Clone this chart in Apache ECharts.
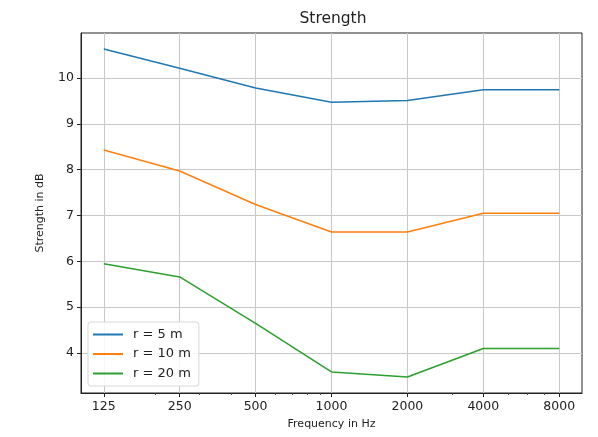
<!DOCTYPE html>
<html>
<head>
<meta charset="utf-8">
<script src="https://cdn.jsdelivr.net/npm/echarts@6/dist/echarts.min.js"></script>
<style>
  html, body { margin: 0; padding: 0; background: #fff; }
  #chart { width: 598px; height: 437px; }
</style>
</head>
<body>
<div id="chart"></div>
<script>
// frequencies (Hz) and strength values (dB)
var freqs = [125, 250, 500, 1000, 2000, 4000, 8000];
var minorFreqs = [200, 300, 400, 600, 700, 800, 900, 3000, 5000, 6000, 7000];
var yTicks = [4, 5, 6, 7, 8, 9, 10];
var names = ['r = 5 m', 'r = 10 m', 'r = 20 m'];
var r5 = [10.63, 10.21, 9.78, 9.47, 9.51, 9.74, 9.74];
var r10 = [8.43, 7.97, 7.24, 6.64, 6.64, 7.05, 7.05];
var r20 = [5.95, 5.66, 4.65, 3.59, 3.48, 4.1, 4.1];
var colors = ['#1f77b4', '#ff7f0e', '#2ca02c'];

function pairs(xs, ys) {
    var out = [];
    for (var i = 0; i < xs.length; i++) {
        out.push([xs[i], ys[i]]);
    }
    return out;
}

var chart = echarts.init(document.getElementById('chart'));
var font = 'DejaVu Sans';
var xMin = 125 / Math.pow(2, 0.3);
var xMax = 8000 * Math.pow(2, 0.3);

var option = {
    animation: false,
    backgroundColor: '#fff',
    textStyle: { fontFamily: font },
    title: {
        text: 'Strength',
        left: 328,
        textAlign: 'center',
        top: 6,
        textStyle: { fontFamily: font, fontSize: 15.5, fontWeight: 'normal', color: '#222' }
    },
    legend: {
        orient: 'vertical',
        left: 88,
        top: 322,
        data: names,
        icon: 'rect',
        itemWidth: 30,
        itemHeight: 2,
        itemGap: 6.5,
        padding: [6, 8, 6, 5],
        backgroundColor: 'rgba(255,255,255,0.85)',
        borderColor: '#d8d8d8',
        borderWidth: 1,
        borderRadius: 3,
        textStyle: { fontFamily: font, fontSize: 13, color: '#222', padding: [0, 0, 0, 5] }
    },
    grid: {
        left: 81,
        right: 16,
        top: 33,
        bottom: 44,
        show: true,
        borderColor: '#222',
        borderWidth: 1,
        backgroundColor: '#fff'
    },
    xAxis: [{
        type: 'log',
        logBase: 2,
        min: xMin,
        max: xMax,
        name: 'Frequency in Hz',
        nameLocation: 'middle',
        nameGap: 26,
        nameTextStyle: { fontFamily: font, fontSize: 11, color: '#222' },
        axisLine: { lineStyle: { color: '#222', width: 1 } },
        axisTick: { show: true, length: 4, customValues: freqs, lineStyle: { color: '#222' } },
        axisLabel: {
            customValues: freqs,
            formatter: function (v) { return String(Math.round(v)); },
            fontFamily: font, fontSize: 12.5, color: '#222', margin: 7
        },
        splitLine: { show: true, lineStyle: { color: '#c8c8c8', width: 1 } }
    }, {
        type: 'log',
        logBase: 2,
        min: xMin,
        max: xMax,
        position: 'bottom',
        axisLine: { show: false },
        axisTick: { show: true, length: 2, customValues: minorFreqs, lineStyle: { color: '#444' } },
        axisLabel: { show: false },
        splitLine: { show: false }
    }],
    yAxis: [{
        type: 'value',
        min: 3.13,
        max: 10.98,
        name: 'Strength in dB',
        nameLocation: 'middle',
        nameGap: 35,
        nameTextStyle: { fontFamily: font, fontSize: 11, color: '#222' },
        axisLine: { show: true, lineStyle: { color: '#222', width: 1 } },
        axisTick: { show: true, length: 4, customValues: yTicks, lineStyle: { color: '#222' } },
        axisLabel: { customValues: yTicks, fontFamily: font, fontSize: 12.5, color: '#222', margin: 7 },
        splitLine: { show: true, lineStyle: { color: '#c8c8c8', width: 1 } }
    }],
    series: []
};

var allValues = [r5, r10, r20];
for (var i = 0; i < names.length; i++) {
    option.series.push({
        name: names[i],
        type: 'line',
        data: pairs(freqs, allValues[i]),
        showSymbol: false,
        symbol: 'none',
        color: colors[i],
        lineStyle: { color: colors[i], width: 1.5 }
    });
}

chart.setOption(option);
</script>
</body>
</html>
